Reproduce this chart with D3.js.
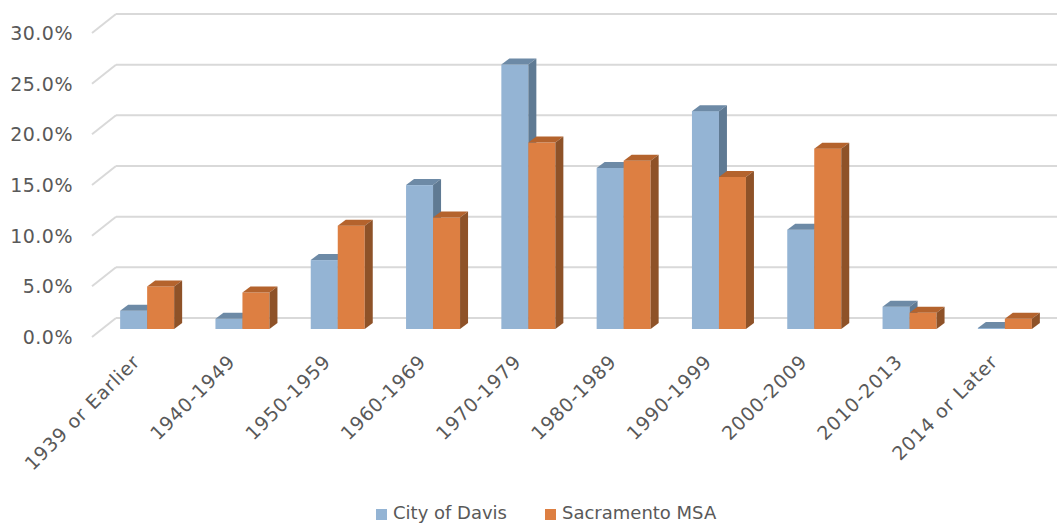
<!DOCTYPE html>
<html>
<head>
<meta charset="utf-8">
<script src="https://cdn.jsdelivr.net/npm/d3@7"></script>
<style>
  body { margin: 0; background: #fff; }
  text { font-family: "DejaVu Sans", sans-serif; fill: #595959; }
</style>
</head>
<body>
<script>
var width = 1057,
    height = 524;

var categories = ["1939 or Earlier", "1940-1949", "1950-1959", "1960-1969", "1970-1979",
                  "1980-1989", "1990-1999", "2000-2009", "2010-2013", "2014 or Later"];
var davis = [1.8, 1.0, 6.8, 14.2, 26.1, 15.9, 21.5, 9.8, 2.2, 0.1];
var sacramento = [4.2, 3.6, 10.2, 11.0, 18.4, 16.6, 15.0, 17.8, 1.6, 1.0];
var seriesNames = ["City of Davis", "Sacramento MSA"];
var yTicks = [0, 5, 10, 15, 20, 25, 30];

// front colour, top colour, side colour
var colors = [
  ["#94b4d4", "#6d8aa6", "#5f7a93"],
  ["#dd7f42", "#b4632d", "#8e5228"]
];

var svg = d3.select("body").append("svg")
    .attr("width", width)
    .attr("height", height);

// wall depth offset and bar depth offset
var wallDx = 24, wallDy = 19;
var barDx = 8, barDy = 6;

var y = d3.scaleLinear().domain([0, 30]).range([329, 25]);
var x = d3.scaleBand().domain(categories).range([99.5, 1052.5]);
var barW = 27;

// back wall gridlines + left wall diagonals
var grid = svg.append("g");
yTicks.forEach(function(t) {
    var yb = y(t) - 11;
    grid.append("line")
        .attr("x1", 116).attr("x2", width)
        .attr("y1", yb).attr("y2", yb)
        .attr("stroke", "#d9d9d9").attr("stroke-width", 2);
    grid.append("line")
        .attr("x1", 116 - wallDx).attr("y1", yb + wallDy)
        .attr("x2", 116).attr("y2", yb)
        .attr("stroke", "#d9d9d9").attr("stroke-width", 2);
    svg.append("text")
        .attr("x", 73).attr("y", yb + wallDy)
        .attr("dy", "0.36em")
        .attr("text-anchor", "end")
        .style("font-size", "19px")
        .style("letter-spacing", "0.5px")
        .text(t.toFixed(1) + "%");
});

function bar(g, x0, v, c) {
    var x1 = x0 + barW, yt = y(v), yb = y(0);
    // front
    g.append("rect")
        .attr("x", x0).attr("y", yt)
        .attr("width", barW).attr("height", yb - yt)
        .attr("fill", c[0]);
    // top
    g.append("path")
        .attr("d", "M" + x0 + "," + yt + "L" + (x0 + barDx) + "," + (yt - barDy) +
                   "L" + (x1 + barDx) + "," + (yt - barDy) + "L" + x1 + "," + yt + "Z")
        .attr("fill", c[1]);
    // side
    g.append("path")
        .attr("d", "M" + x1 + "," + yt + "L" + (x1 + barDx) + "," + (yt - barDy) +
                   "L" + (x1 + barDx) + "," + (yb - barDy) + "L" + x1 + "," + yb + "Z")
        .attr("fill", c[2]);
}

var bars = svg.append("g");
categories.forEach(function(cat, i) {
    var cx = x(cat) + x.bandwidth() / 2;
    bar(bars, cx - barW, davis[i], colors[0]);
    bar(bars, cx, sacramento[i], colors[1]);
});

// category labels
categories.forEach(function(cat) {
    var cx = x(cat) + x.bandwidth() / 2;
    svg.append("text")
        .attr("text-anchor", "end")
        .attr("transform", "translate(" + (cx - 6) + "," + 363 + ") rotate(-45)")
        .style("font-size", "19px")
        .style("letter-spacing", "0.8px")
        .text(cat);
});

// legend
var legend = svg.append("g");
var lx = [376, 545];
seriesNames.forEach(function(name, i) {
    legend.append("rect")
        .attr("x", lx[i]).attr("y", 509)
        .attr("width", 11).attr("height", 11)
        .attr("fill", colors[i][0]);
    legend.append("text")
        .attr("x", lx[i] + 17).attr("y", 519)
        .style("font-size", "18px")
        .text(name);
});
</script>
</body>
</html>
